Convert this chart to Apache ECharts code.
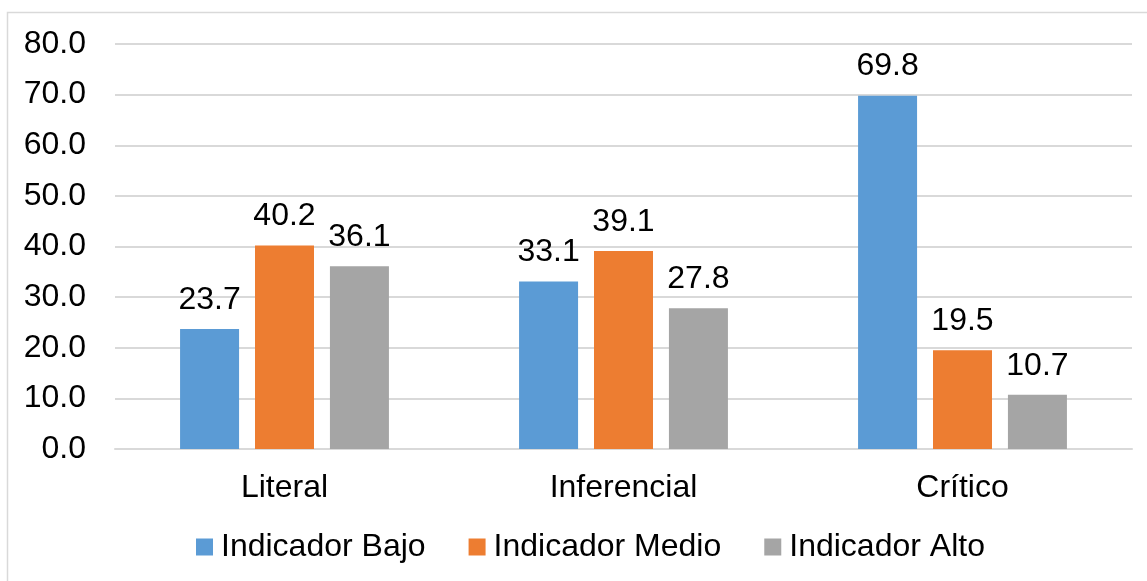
<!DOCTYPE html>
<html>
<head>
<meta charset="utf-8">
<script src="https://cdn.jsdelivr.net/npm/echarts@6/dist/echarts.min.js"></script>
<style>
html,body{margin:0;padding:0;background:#fff;}
#c{width:1147px;height:581px;}
</style>
</head>
<body>
<div id="c"></div>
<script>
var categories = ['Literal', 'Inferencial', 'Crítico'];
var seriesNames = ['Indicador Bajo', 'Indicador Medio', 'Indicador Alto'];
var bajo = [23.7, 33.1, 69.8];
var medio = [40.2, 39.1, 19.5];
var alto = [36.1, 27.8, 10.7];
var colors = ['#5B9BD5', '#ED7D31', '#A5A5A5'];

var FONT = 'Liberation Sans, Arial, sans-serif';
var FS = 32;
var chart = echarts.init(document.getElementById('c'));
var dataSets = [bajo, medio, alto];
var series = dataSets.map(function (d, i) {
  return {
    name: seriesNames[i],
    type: 'bar',
    data: d,
    barWidth: 59,
    barGap: '27%',
    itemStyle: { color: colors[i] },
    label: {
      show: true,
      position: 'top',
      distance: 13,
      fontFamily: FONT,
      fontSize: FS,
      color: '#000',
      formatter: function (p) { return p.value.toFixed(1); }
    }
  };
});

chart.setOption({
  animation: false,
  backgroundColor: '#fff',
  graphic: [{
    type: 'rect',
    shape: { x: 7.5, y: 12.5, width: 1160, height: 600 },
    style: { fill: 'none', stroke: '#d9d9d9', lineWidth: 1.5 },
    silent: true, z: -10
  }],
  grid: { left: 115, right: 15, top: 44, bottom: 132 },
  legend: {
    data: seriesNames,
    bottom: 13,
    left: 191,
    itemWidth: 17,
    itemHeight: 17,
    itemGap: 43,
    icon: 'rect',
    textStyle: { fontFamily: FONT, fontSize: FS, color: '#000', padding: [0, 0, 0, 3] }
  },
  xAxis: {
    type: 'category',
    data: categories,
    axisLine: { lineStyle: { color: '#d9d9d9', width: 2 } },
    axisTick: { show: false },
    axisLabel: { fontFamily: FONT, fontSize: FS, color: '#000', margin: 23 }
  },
  yAxis: {
    type: 'value',
    min: 0, max: 80, interval: 10,
    axisLine: { show: false },
    axisTick: { show: false },
    splitLine: { lineStyle: { color: '#d9d9d9', width: 2 } },
    axisLabel: {
      fontFamily: FONT, fontSize: FS, color: '#000', margin: 29,
      formatter: function (v) { return v.toFixed(1); }
    }
  },
  series: series
});
</script>
</body>
</html>
